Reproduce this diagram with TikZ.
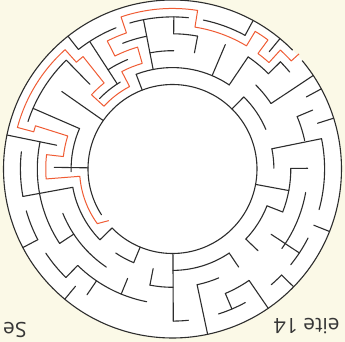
\documentclass[tikz,border=0pt]{standalone}
\usepackage{fontspec}
\setmainfont{Open Sans}
\definecolor{bgc}{RGB}{251,249,231}
\definecolor{wallc}{RGB}{45,45,45}
\definecolor{solc}{RGB}{240,92,52}
\definecolor{txtc}{RGB}{55,55,55}
\def\rA{84.5}\def\rB{101.4}\def\rC{118.3}\def\rD{135.2}\def\rE{152.1}\def\rF{169}
\def\cA{92.95}\def\cB{109.85}\def\cC{126.75}\def\cD{143.65}\def\cE{160.55}
\tikzset{
  wall/.style={line width=1.1pt, draw=wallc, line cap=round},
  sol/.style={line width=1pt, draw=solc, line join=round},
  pagetxt/.style={font=\fontsize{21}{21}\selectfont, text=txtc, inner sep=0pt, rotate=180}
}
\begin{document}
\begin{tikzpicture}
\useasboundingbox[fill=bgc] (-172.5pt,-173pt) rectangle (172.5pt,169pt);
\fill[white] (0,0) circle (\rF pt);
% outer and inner circles with openings
\draw[wall] (44.8:\rF pt) arc[start angle=44.8, end angle=399.8, radius=\rF pt];
\draw[wall] (224.3:\rA pt) arc[start angle=224.3, end angle=572.8, radius=\rA pt];
% ring arcs
\foreach \r/\s/\e in {
  \rB/121/136, \rB/56/111, \rB/23/45.3, \rB/0.4/11.5, \rB/316.3/338.7,
  \rB/270.3/304, \rB/236/247.5, \rB/190.4/224.3, \rB/156.5/181.5,
  \rC/112.3/123, \rC/89.4/101, \rC/33.6/45.3, \rC/338.7/360.3, \rC/282/293,
  \rC/259/270.3, \rC/202/236,
  \rD/101/111.6, \rD/79.3/89.5, \rD/44.8/56, \rD/12.1/22.8, \rD/324/350,
  \rD/293/304.5, \rD/225.5/259, \rD/168.4/213.4,
  \rE/111.8/128.2, \rE/84/106.3, \rE/61.5/78.3, \rE/39.6/44.8, \rE/-15.5/11.5,
  \rE/321/333, \rE/310.5/315.8, \rE/287.6/298.6, \rE/270.3/276, \rE/213.6/225.5,
  \rE/196/207.7, \rE/173.5/190.4, \rE/134.3/161.8}
  \draw[wall] (\s:\r pt) arc[start angle=\s, end angle=\e, radius=\r pt];
% radial walls
\foreach \a/\p/\q in {
  128.2/\rE/\rF, 123/\rB/\rE, 134.3/\rC/\rE, 145/\rA/\rD, 156.5/\rB/\rE,
  168.4/\rC/\rF, 179.2/\rA/\rC, 190.4/\rB/\rE, 207.7/\rE/\rF, 213.4/\rC/\rD,
  224.3/\rA/\rB, 225.5/\rD/\rE, 230.4/\rE/\rF, 235.8/\rD/\rE, 247.5/\rA/\rB,
  247.7/\rC/\rD, 259/\rB/\rC, 270.3/\rA/\rE, 282/\rC/\rF, 293/\rD/\rE,
  304/\rB/\rC, 304.5/\rD/\rF, 315.8/\rE/\rF, 316.3/\rB/\rC, 326.5/\rC/\rE,
  338.3/\rE/\rF, 338.7/\rB/\rC, 349.5/\rA/\rC, 0.3/\rC/\rD, 11.5/\rB/\rE,
  17.5/\rE/\rF, 22.8/\rD/\rE, 28.3/\rE/\rF, 33.6/\rC/\rF, 44.8/\rD/\rE,
  45.3/\rA/\rB, 50.5/\rE/\rF, 56/\rB/\rD, 61.5/\rE/\rF, 67/\rB/\rD,
  79.3/\rC/\rD, 89.5/\rD/\rE, 101/\rB/\rE, 111/\rA/\rB}
  \draw[wall] (\a:\p pt) -- (\a:\q pt);
% solution path
\draw[sol] (42.3:171pt) -- (42.3:\cE pt)
  arc[start angle=42.3, end angle=47.8, radius=\cE pt] -- (47.8:\cD pt)
  arc[start angle=47.8, end angle=53.5, radius=\cD pt] -- (53.5:\cE pt)
  arc[start angle=53.5, end angle=59, radius=\cE pt] -- (59:\cD pt)
  arc[start angle=59, end angle=81, radius=\cD pt] -- (81:\cE pt)
  arc[start angle=81, end angle=108.7, radius=\cE pt] -- (108.7:\cD pt)
  arc[start angle=108.7, end angle=117, radius=\cD pt] -- (117:\cC pt)
  arc[start angle=117, end angle=106, radius=\cC pt] -- (106:\cB pt)
  arc[start angle=106, end angle=117.5, radius=\cB pt] -- (117.5:\cA pt)
  arc[start angle=117.5, end angle=137.5, radius=\cA pt] -- (137.5:\cB pt)
  arc[start angle=137.5, end angle=128.5, radius=\cB pt] -- (128.5:\cD pt)
  arc[start angle=128.5, end angle=132, radius=\cD pt] -- (132:\cE pt)
  arc[start angle=132, end angle=165, radius=\cE pt] -- (165:\cD pt)
  arc[start angle=165, end angle=162.5, radius=\cD pt] -- (162.5:\cB pt)
  arc[start angle=162.5, end angle=173.5, radius=\cB pt] -- (173.5:\cC pt)
  arc[start angle=173.5, end angle=184.5, radius=\cC pt] -- (184.5:\cA pt)
  arc[start angle=184.5, end angle=216, radius=\cA pt] -- (219:82pt);
% page footers (upside down)
\node[pagetxt, anchor=east] (tl) at (-169.5pt,-160.5pt) {Se};
\node[pagetxt, anchor=east] (tr) at (101.2pt,-157pt) {eite 14};
\end{tikzpicture}
\end{document}
